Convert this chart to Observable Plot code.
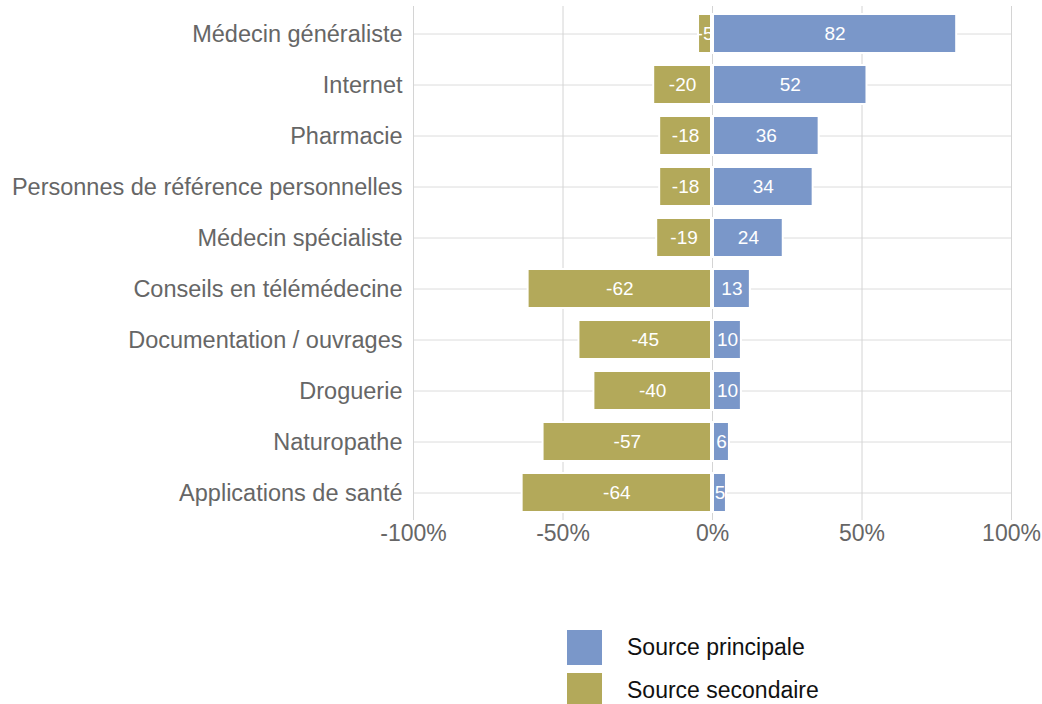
<!DOCTYPE html>
<html>
<head>
<meta charset="utf-8">
<script src="https://cdn.jsdelivr.net/npm/d3@7"></script>
<script src="https://cdn.jsdelivr.net/npm/@observablehq/plot@0.6"></script>
<style>
  html, body { margin: 0; padding: 0; background: #fff; }
  body { width: 1042px; height: 704px; overflow: hidden; font-family: "Liberation Sans", Arial, Helvetica, sans-serif; }
  #chart svg { display: block; }
  #legend { margin-left: 567px; padding-top: 70px; }
  .item { display: flex; align-items: center; height: 35px; margin-bottom: 8px; }
  .sw { width: 35px; height: 35px; margin-right: 25px; }
  .lab { font-size: 23px; color: #111; }
</style>
</head>
<body>
<div id="chart"></div>
<div id="legend"></div>
<script>
const categories = [
  "Médecin généraliste",
  "Internet",
  "Pharmacie",
  "Personnes de référence personnelles",
  "Médecin spécialiste",
  "Conseils en télémédecine",
  "Documentation / ouvrages",
  "Droguerie",
  "Naturopathe",
  "Applications de santé"
];
const principal = [82, 52, 36, 34, 24, 13, 10, 10, 6, 5];
const secondaire = [-5, -20, -18, -18, -19, -62, -45, -40, -57, -64];
const seriesNames = ["Source principale", "Source secondaire"];
const seriesColors = ["#7a97c9", "#b3a95a"];
const xTicks = [-100, -50, 0, 50, 100];

const data = [];
categories.forEach((c, i) => {
  data.push({category: c, value: principal[i], series: seriesNames[0]});
  data.push({category: c, value: secondaire[i], series: seriesNames[1]});
});

const chart = Plot.plot({
  width: 1042,
  height: 560,
  marginLeft: 413,
  marginRight: 31,
  marginTop: 6,
  marginBottom: 40,
  style: {fontFamily: "'Liberation Sans', Arial, Helvetica, sans-serif", fontSize: "23px", color: "#666", background: "white"},
  x: {domain: [-100, 100], label: null},
  y: {domain: categories, label: null, paddingInner: 0.24, paddingOuter: 0.12},
  color: {domain: seriesNames, range: seriesColors},
  marks: [
    Plot.gridY({stroke: "#dcdcdc", strokeOpacity: 1}),
    Plot.gridX({ticks: xTicks, stroke: "#d4d4d4", strokeOpacity: 1}),
    Plot.barX(data, {x: "value", y: "category", fill: "series", stroke: "white", strokeWidth: 2, insetLeft: 1, insetRight: 1}),
    Plot.text(data, {x: d => d.value / 2, y: "category", text: d => String(d.value), fill: "white", fontSize: 19}),
    Plot.axisX({ticks: xTicks, tickFormat: d => d + "%", tickSize: 0, tickPadding: 4, fontSize: 23, label: null}),
    Plot.axisY({tickSize: 0, tickPadding: 11, fontSize: 23.5, label: null})
  ]
});
document.getElementById("chart").appendChild(chart);

const legend = document.getElementById("legend");
seriesNames.forEach((s, i) => {
  const item = document.createElement("div");
  item.className = "item";
  const sw = document.createElement("div");
  sw.className = "sw";
  sw.style.background = seriesColors[i];
  const lab = document.createElement("span");
  lab.className = "lab";
  lab.textContent = s;
  item.appendChild(sw);
  item.appendChild(lab);
  legend.appendChild(item);
});
</script>
</body>
</html>
